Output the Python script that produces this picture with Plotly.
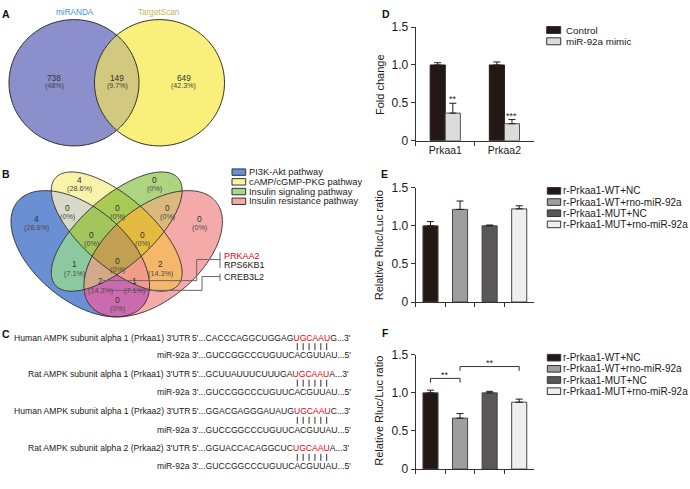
import numpy as np
import plotly.graph_objects as go

W, H = 690, 489
FONT = "Liberation Sans, Arial, Helvetica, sans-serif"
INK = "#231815"
RED = "#E60012"

# ---------------- data ----------------
# Panel A: predicted targets of miR-92a
venn2_names = ["miRANDA", "TargetScan"]
venn2_counts = [738, 149, 649]            # miRANDA only, both, TargetScan only

# Panel B: KEGG pathway membership (sets: 0 PI3K-Akt, 1 cAMP/cGMP-PKG, 2 Insulin signaling, 3 Insulin resistance)
pathways = ["PI3K-Akt pathway", "cAMP/cGMP-PKG pathway",
            "Insulin signaling pathway", "Insulin resistance pathway"]
venn4_regions = [(0,), (1,), (2,), (3,), (0, 1), (1, 2), (2, 3), (0, 1, 2), (1, 2, 3),
                 (0, 2), (0, 1, 2, 3), (1, 3), (0, 2, 3), (0, 1, 3), (0, 3)]
venn4_counts = [4, 4, 0, 0, 0, 0, 0, 0, 0, 1, 0, 2, 2, 1, 0]
gene_groups = [["PRKAA2", "RPS6KB1"], ["CREB3L2"]]
highlight_gene = "PRKAA2"

# Panel C: seed-site alignments
target_labels = ["Human AMPK subunit alpha 1 (Prkaa1) 3'UTR",
                 "Rat AMPK subunit alpha 1 (Prkaa1) 3'UTR",
                 "Human AMPK subunit alpha 1 (Prkaa2) 3'UTR",
                 "Rat AMPK subunit alpha 2 (Prkaa2) 3'UTR"]
target_upstream = ["CACCCAGGCUGGAG", "GCUUAUUUCUUUGA", "GGACGAGGGAUAUG", "GGUACCACAGGCUC"]
seed_site = "UGCAAU"
target_downstream = ["G", "A", "C", "A"]
mirna_label = "miR-92a"
mirna_seq = "GUCCGGCCCUGUUCACGUUAU"

# Panel D: qPCR fold change
d_genes = ["Prkaa1", "Prkaa2"]
d_series = ["Control", "miR-92a mimic"]
d_control = [1.0, 1.0]
d_control_err = [0.03, 0.04]
d_mimic = [0.365, 0.225]
d_mimic_err = [0.13, 0.055]
d_sig = ["**", "***"]

# Panels E, F: luciferase reporter
luc_groups = ["r-Prkaa1-WT+NC", "r-Prkaa1-WT+rno-miR-92a",
              "r-Prkaa1-MUT+NC", "r-Prkaa1-MUT+rno-miR-92a"]
e_ratio = [1.0, 1.215, 1.0, 1.222]
e_err = [0.055, 0.11, 0.01, 0.04]
f_ratio = [1.0, 0.668, 1.0, 0.878]
f_err = [0.035, 0.06, 0.02, 0.04]
f_comparisons = [(0, 1, "**"), (1, 3, "**")]
f_bracket_levels = [1.19, 1.345]

# ---------------- styles ----------------
venn2_fill = ["#8B8FCB", "#F8F07A"]
venn2_overlap = "#D3C87F"
venn2_name_colors = ["#3D8FDB", "#C8B54E"]
venn4_colors = {
    (0,): "#6A8FD2", (1,): "#F8F3A8", (2,): "#ADD47F", (3,): "#F4AAA8",
    (0, 1): "#D9D9C9", (1, 2): "#A9CA55", (2, 3): "#D9BA7C",
    (0, 2): "#8CC9A0", (1, 3): "#F5B86A", (0, 3): "#CC6AB0",
    (0, 1, 2): "#A2C65C", (1, 2, 3): "#E4BB40", (0, 1, 3): "#F09C88",
    (0, 2, 3): "#D2A98A", (0, 1, 2, 3): "#C2A052",
}
d_colors = [INK, "#DCDCDC"]
luc_colors = [INK, "#9E9E9E", "#595757", "#EFEFEF"]

shapes, annotations = [], []


def fx(x):
    return x / W


def fy(y):
    return 1 - y / H


def txt(x, y, s, size, color=INK, anchor="center", bold=False, angle=0):
    annotations.append(dict(
        x=fx(x), y=fy(y), xref="paper", yref="paper", text=f"<b>{s}</b>" if bold else s,
        showarrow=False, xanchor=anchor, yanchor="middle", textangle=angle,
        borderpad=0, borderwidth=0,
        font=dict(family=FONT, size=size, color=color)))


def seg(x0, y0, x1, y1, color="#555555", w=1):
    shapes.append(dict(type="line", xref="paper", yref="paper",
                       x0=fx(x0), y0=fy(y0), x1=fx(x1), y1=fy(y1),
                       line=dict(color=color, width=w), layer="above"))


def rect(x0, y0, x1, y1, fill, edge="#333333"):
    shapes.append(dict(type="rect", xref="paper", yref="paper",
                       x0=fx(x0), y0=fy(y0), x1=fx(x1), y1=fy(y1),
                       fillcolor=fill, line=dict(color=edge, width=1), layer="above"))


def poly(pts, fill, edge=None, w=1):
    if len(pts) < 3:
        return
    path = "M" + "L".join(f"{fx(x):.5f},{fy(y):.5f}" for x, y in pts) + "Z"
    shapes.append(dict(type="path", xref="paper", yref="paper", path=path,
                       fillcolor=fill,
                       line=dict(color=edge if edge else "rgba(0,0,0,0)", width=w if edge else 0),
                       layer="above"))


def area(p):
    return 0.5 * sum(p[i][0] * p[(i + 1) % len(p)][1] - p[(i + 1) % len(p)][0] * p[i][1]
                     for i in range(len(p)))


def clip(subject, clipper):
    s = 1 if area(clipper) > 0 else -1
    out = list(subject)
    for i in range(len(clipper)):
        A, B = clipper[i], clipper[(i + 1) % len(clipper)]
        inp, out = out, []
        if not inp:
            break

        def inside(P):
            return s * ((B[0] - A[0]) * (P[1] - A[1]) - (B[1] - A[1]) * (P[0] - A[0])) >= 0

        def inter(P, Q):
            x1, y1 = P; x2, y2 = Q; x3, y3 = A; x4, y4 = B
            den = (x1 - x2) * (y3 - y4) - (y1 - y2) * (x3 - x4)
            t = ((x1 - x3) * (y3 - y4) - (y1 - y3) * (x3 - x4)) / den
            return (x1 + t * (x2 - x1), y1 + t * (y2 - y1))

        for j in range(len(inp)):
            P, Q = inp[j - 1], inp[j]
            if inside(Q):
                if not inside(P):
                    out.append(inter(P, Q))
                out.append(Q)
            elif inside(P):
                out.append(inter(P, Q))
    return out


def pct(c, total):
    s = f"{100 * c / total:.1f}"
    return s[:-2] if s.endswith(".0") else s


# ---------------- Panel A ----------------
tt = np.linspace(0, 2 * np.pi, 240, endpoint=False)
circA = [(74 + 65 * np.cos(t), 78 + 65 * np.sin(t)) for t in tt]
circB = [(159.5 + 65 * np.cos(t), 78 + 65 * np.sin(t)) for t in tt]
poly(circA, venn2_fill[0])
poly(circB, venn2_fill[1])
poly(clip(circA, circB), venn2_overlap)
poly(circA, "rgba(0,0,0,0)", "#2a2a2a", 1)
poly(circB, "rgba(0,0,0,0)", "#2a2a2a", 1)
txt(74.5, 5.5, venn2_names[0], 8.2, venn2_name_colors[0])
txt(159, 5.5, venn2_names[1], 8.2, venn2_name_colors[1])
tot2 = sum(venn2_counts)
for (x, c) in zip([54.3, 117.2, 183.8], venn2_counts):
    txt(x, 72.7, str(c), 8.3, "#333333")
    txt(x, 81.7, f"({pct(c, tot2)}%)", 7.1, "#444444")

# ---------------- Panel B ----------------
def venn_px(x, y):
    return (11 + (x - 0.065) * 243, 319 - (y - 0.185) * 228)


ell_params = [(0.35, 0.47, 0.35, 0.20, 135), (0.50, 0.57, 0.35, 0.15, 135),
              (0.50, 0.57, 0.35, 0.15, 45), (0.65, 0.47, 0.35, 0.20, 45)]
ellipses = []
for cx, cy, a, b, rot in ell_params:
    r = np.radians(rot)
    pts = []
    for t in tt:
        ex = cx + a * np.cos(t) * np.cos(r) - b * np.sin(t) * np.sin(r)
        ey = cy + a * np.cos(t) * np.sin(r) + b * np.sin(t) * np.cos(r)
        pts.append(venn_px(ex, ey))
    ellipses.append(pts)

for reg in sorted(venn4_regions, key=len):
    p = ellipses[reg[0]]
    for k in reg[1:]:
        p = clip(p, ellipses[k])
    poly(p, venn4_colors[reg])
for e in ellipses:
    poly(e, "rgba(0,0,0,0)", "#2a2a2a", 0.9)

label_pos = {
    (1,): (79, 178.5, 187), (2,): (154.5, 178.5, 187),
    (0,): (36.7, 218.5, 227), (3,): (199, 218, 226.5),
    (0, 1): (67.7, 207, 215.5), (1, 2): (117.3, 207, 215.5), (2, 3): (167.7, 207, 215.5),
    (0, 1, 2): (91.7, 235, 243.5), (1, 2, 3): (142.7, 235, 243.5),
    (0, 2): (74, 265, 274.5), (0, 1, 2, 3): (117.3, 261.5, 270), (1, 3): (160, 265, 274.5),
    (0, 2, 3): (100, 282.5, 291.5), (0, 1, 3): (134, 282.5, 291.5),
    (0, 3): (117.3, 302, 310.5),
}
tot4 = sum(venn4_counts)
for reg, c in zip(venn4_regions, venn4_counts):
    x, y1, y2 = label_pos[reg]
    txt(x, y1, str(c), 8.4, "#333333")
    txt(x, y2, f"({pct(c, tot4)}%)", 7.2, "#4a4a4a")

# pathway legend
leg_cols = [venn4_colors[(i,)] for i in range(4)]
for i, (name, col) in enumerate(zip(pathways, leg_cols)):
    yc = 170 + 10 * i
    rect(232, yc - 3.3, 245.7, yc + 3.3, col, "#333333")
    txt(248.5, yc, name, 9.3, INK, anchor="left")

# gene call-outs
gene_rows = [[256, 265.7], [278.3]]
for grp, ys in zip(gene_groups, gene_rows):
    for g, y in zip(grp, ys):
        txt(224, y, g, 9, RED if g == highlight_gene else INK, anchor="left")
seg(220, 252.5, 220, 268.5, "#666666")
seg(196.7, 260, 220, 260, "#666666")
seg(196.7, 260, 196.7, 281.7, "#666666")
seg(103, 281.7, 196.7, 281.7, "#666666")
seg(220, 274.5, 220, 282, "#666666")
seg(202, 277.5, 220, 277.5, "#666666")
seg(202, 277.5, 202, 291.7, "#666666")
seg(110, 291.7, 202, 291.7, "#666666")

# ---------------- Panel C ----------------
target_y = [341, 378.3, 416, 454.3]
mirna_y = [358.3, 396.3, 435, 473]
for lab, up, down, yt, ym in zip(target_labels, target_upstream, target_downstream, target_y, mirna_y):
    txt(190, yt, lab, 8.6, INK, anchor="right")
    txt(191.5, yt, f"5'...{up}<span style='color:{RED}'>{seed_site}</span>{down}...3'", 8.6, INK, anchor="left")
    yb = (yt + ym) / 2
    for k in range(len(seed_site)):
        xb = 297.3 + k * 5.88
        seg(xb, yb - 3.6, xb, yb + 3.6, INK, 0.9)
    txt(190, ym, mirna_label, 8.6, INK, anchor="right")
    txt(191.5, ym, f"3'...{mirna_seq}...5'", 8.6, INK, anchor="left")

# ---------------- panel letters ----------------
for L, x, y in [("A", 6, 7.5), ("B", 6, 171.5), ("C", 6, 337), ("D", 385.5, 6.7), ("E", 384.7, 171.7), ("F", 385, 335.3)]:
    txt(x, y, L, 10.5, "#111111", bold=True)

# ---------------- bar charts ----------------
fig = go.Figure()
ebar = dict(type="data", symmetric=False, color=INK, thickness=1, width=3.5)

fig.add_trace(go.Bar(x=d_genes, y=d_control, name=d_series[0], xaxis="x", yaxis="y",
                     marker=dict(color=d_colors[0], line=dict(color=INK, width=1)),
                     error_y=dict(array=d_control_err, arrayminus=[0] * len(d_genes), **ebar)))
fig.add_trace(go.Bar(x=d_genes, y=d_mimic, name=d_series[1], xaxis="x", yaxis="y",
                     marker=dict(color=d_colors[1], line=dict(color="#555555", width=1)),
                     error_y=dict(array=d_mimic_err, arrayminus=[0] * len(d_genes), **ebar)))
fig.add_trace(go.Bar(x=luc_groups, y=e_ratio, xaxis="x2", yaxis="y2",
                     marker=dict(color=luc_colors, line=dict(color="#444444", width=1)),
                     error_y=dict(array=e_err, arrayminus=[0] * len(luc_groups), **ebar)))
fig.add_trace(go.Bar(x=luc_groups, y=f_ratio, xaxis="x3", yaxis="y3",
                     marker=dict(color=luc_colors, line=dict(color="#444444", width=1)),
                     error_y=dict(array=f_err, arrayminus=[0] * len(luc_groups), **ebar)))

# significance stars (D)
for i, (v, e, s) in enumerate(zip(d_mimic, d_mimic_err, d_sig)):
    annotations.append(dict(x=i + 0.1275, y=v + e, xref="x", yref="y", text=s, showarrow=False,
                            xanchor="center", yanchor="bottom", yshift=-2, borderpad=0,
                            font=dict(family=FONT, size=9, color=INK)))
# brackets (F)
for (a, b, s), lvl in zip(f_comparisons, f_bracket_levels):
    for (x0, y0, x1, y1) in [(a, lvl, b, lvl), (a, lvl, a, lvl - 0.056), (b, lvl, b, lvl - 0.056)]:
        shapes.append(dict(type="line", xref="x3", yref="y3", x0=x0, y0=y0, x1=x1, y1=y1,
                           line=dict(color="#333333", width=1), layer="above"))
    annotations.append(dict(x=(a + b) / 2, y=lvl, xref="x3", yref="y3", text=s, showarrow=False,
                            xanchor="center", yanchor="bottom", yshift=-2.5, borderpad=0,
                            font=dict(family=FONT, size=9, color=INK)))

# y titles
txt(379.3, 80, "Fold change", 11, INK, angle=-90)
txt(379.3, 245, "Relative Rluc/Luc ratio", 11, INK, angle=-90)
txt(379.3, 415.3, "Relative Rluc/Luc ratio", 11, INK, angle=-90)

# legends for D, E, F
for i, (n, c) in enumerate(zip(d_series, d_colors)):
    yc = 23.7 + 11.6 * i
    rect(546.7, yc - 3.6, 560.7, yc + 3.6, c, "#333333")
    txt(565.5, yc, n, 9.8, INK, anchor="left")
for y0 in (189.3, 361):
    for i, (n, c) in enumerate(zip(luc_groups, luc_colors)):
        yc = y0 + 11.5 * i
        rect(547.3, yc - 3.4, 560.7, yc + 3.4, c, "#333333")
        txt(563.3, yc, n, 10, INK, anchor="left")

xdom = [415.7 / W, 534 / W]
axis_line = dict(showline=True, linecolor="#333333", linewidth=1, ticks="outside", ticklen=4,
                 tickcolor="#333333", tickwidth=1, showgrid=False, zeroline=False)
ycommon = dict(range=[0, 1.5], tickvals=[0, 0.5, 1.0, 1.5], ticktext=["0", "0.5", "1.0", "1.5"],
               tickfont=dict(family=FONT, size=12, color=INK), fixedrange=True, **axis_line)
xcommon = dict(type="category", tickson="boundaries", domain=xdom, fixedrange=True, **axis_line)

fig.update_layout(
    width=W, height=H, margin=dict(l=0, r=0, t=0, b=0, pad=0),
    paper_bgcolor="white", plot_bgcolor="rgba(0,0,0,0)",
    barmode="group", bargap=0.49, bargroupgap=0, showlegend=False,
    font=dict(family=FONT, color=INK),
    xaxis=dict(anchor="y", range=[-0.5, 1.5], tickfont=dict(family=FONT, size=10.5, color=INK), **xcommon),
    yaxis=dict(anchor="x", domain=[fy(137.7), fy(20.7)], **ycommon),
    xaxis2=dict(anchor="y2", range=[-0.5, 3.5], showticklabels=False, **xcommon),
    yaxis2=dict(anchor="x2", domain=[fy(303.7), fy(186)], **ycommon),
    xaxis3=dict(anchor="y3", range=[-0.5, 3.5], showticklabels=False, **xcommon),
    yaxis3=dict(anchor="x3", domain=[fy(475.7), fy(358)], **ycommon),
    shapes=shapes, annotations=annotations,
)

fig.write_html("out.html", config={"displayModeBar": False},
               post_script="document.body.style.margin='0';document.body.style.overflow='hidden';")
